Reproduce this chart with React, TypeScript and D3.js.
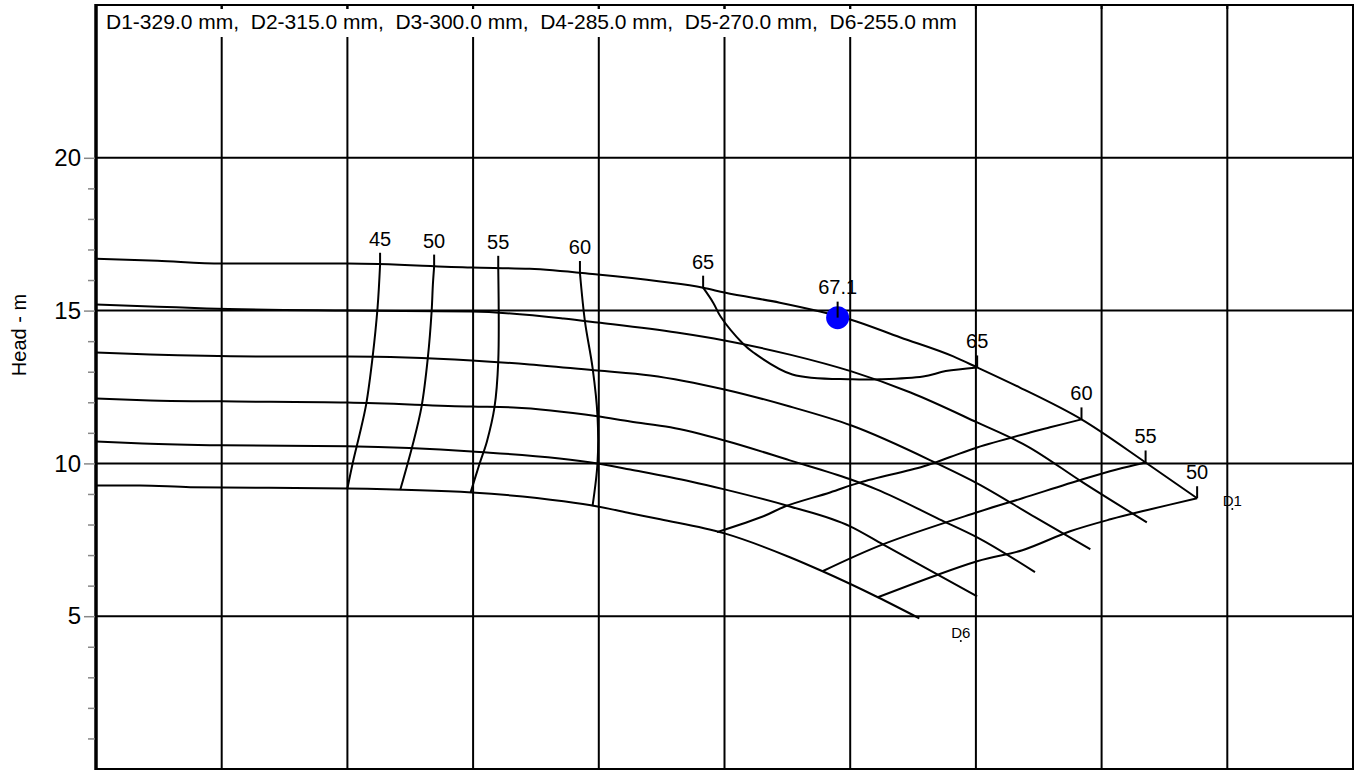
import React, { useRef, useEffect } from 'react';
import * as d3 from 'd3';

type Pt = [number, number];

const WIDTH = 1372;
const HEIGHT = 770;
const FONT = '"Liberation Sans", Arial, sans-serif';

// axis ranges (flow has no labels, just 10 grid columns)
const flowDomain: [number, number] = [0, 10];
const headDomain: [number, number] = [0, 25];
const flowGrid = [1, 2, 3, 4, 5, 6, 7, 8, 9];
const headMajor = [5, 10, 15, 20];
const headMinor = [1, 2, 3, 4, 6, 7, 8, 9, 11, 12, 13, 14, 16, 17, 18, 19];

// impeller diameters
const diameterNames = ['D1', 'D2', 'D3', 'D4', 'D5', 'D6'];
const diameterMm = [329.0, 315.0, 300.0, 285.0, 270.0, 255.0];

// head curves [flow, head m]
const headD1: Pt[] = [
  [0, 16.7], [0.49, 16.63], [1.0, 16.54], [2.0, 16.54], [2.99, 16.41], [3.45, 16.37],
  [3.99, 16.18], [4.49, 15.95], [4.83, 15.75], [5.0, 15.59], [5.44, 15.26], [5.76, 14.97],
  [6.0, 14.71], [6.4, 14.12], [6.82, 13.5], [7.01, 13.14], [7.35, 12.48], [7.84, 11.44],
  [8.35, 10.03], [8.76, 8.86]
];
const headD2: Pt[] = [
  [0, 15.2], [0.49, 15.13], [0.88, 15.07], [2.0, 15.0], [2.99, 14.97], [3.72, 14.74],
  [3.99, 14.61], [4.62, 14.28], [5.0, 14.02], [5.52, 13.56], [6.01, 13.01], [6.48, 12.32],
  [7.01, 11.34], [7.41, 10.56], [7.85, 9.38], [8.36, 8.07]
];
const headD3: Pt[] = [
  [0, 13.63], [0.43, 13.56], [1.28, 13.5], [2.0, 13.5], [2.99, 13.37], [3.45, 13.24],
  [3.99, 13.04], [4.41, 12.88], [5.0, 12.42], [5.52, 11.86], [6.01, 11.24], [6.69, 10.0],
  [7.01, 9.35], [7.47, 8.24], [7.91, 7.19]
];
const headD4: Pt[] = [
  [0, 12.12], [0.43, 12.06], [1.0, 12.03], [2.0, 11.99], [2.99, 11.86], [3.32, 11.83],
  [3.99, 11.54], [4.25, 11.37], [4.57, 11.18], [5.0, 10.75], [5.52, 10.1], [6.0, 9.48],
  [6.21, 9.15], [6.71, 8.17], [7.01, 7.58], [7.47, 6.44]
];
const headD5: Pt[] = [
  [0, 10.72], [0.37, 10.65], [1.0, 10.59], [2.0, 10.56], [2.99, 10.39], [3.99, 10.0],
  [4.25, 9.8], [4.73, 9.41], [5.0, 9.15], [5.52, 8.59], [6.0, 7.94], [6.26, 7.35], [7.01, 5.65]
];
const headD6: Pt[] = [
  [0, 9.28], [0.35, 9.28], [0.75, 9.22], [2.0, 9.18], [2.99, 9.05], [3.72, 8.76],
  [3.99, 8.59], [4.25, 8.37], [4.49, 8.17], [5.0, 7.71], [5.52, 6.93], [5.78, 6.47],
  [6.22, 5.62], [6.55, 4.93]
];

// iso-efficiency lines, each starts on the D1 curve
const eff45: Pt[] = [[2.26, 16.5], [2.24, 15.1], [2.2, 13.46], [2.15, 11.95], [2.1, 11.0], [2.05, 10.15], [2.0, 9.18]];
const eff50a: Pt[] = [[2.69, 16.44], [2.68, 15.85], [2.67, 14.97], [2.64, 13.46], [2.59, 11.86], [2.52, 10.62], [2.42, 9.13]];
const eff55a: Pt[] = [[3.2, 16.4], [3.2, 13.33], [3.17, 11.83], [3.11, 10.72], [3.05, 9.97], [2.98, 9.05]];
const eff60a: Pt[] = [[3.85, 16.23], [3.89, 14.64], [3.95, 13.14], [3.99, 11.54], [3.99, 10.03], [3.95, 8.6]];
const eff65: Pt[] = [
  [4.83, 15.75], [4.91, 15.26], [4.97, 14.8], [5.14, 13.95], [5.23, 13.63], [5.54, 12.91],
  [6.02, 12.75], [6.24, 12.75], [6.58, 12.84], [6.76, 13.02], [7.01, 13.14]
];
const eff60b: Pt[] = [
  [7.84, 11.44], [7.59, 11.18], [7.43, 11.01], [7.01, 10.52], [6.79, 10.2], [6.58, 9.9],
  [6.08, 9.38], [5.84, 9.05], [5.48, 8.59], [5.31, 8.27], [4.94, 7.75]
];
const eff55b: Pt[] = [
  [8.35, 10.03], [8.12, 9.8], [7.85, 9.48], [7.37, 8.86], [7.01, 8.4], [6.26, 7.35], [5.78, 6.47]
];
const eff50b: Pt[] = [
  [8.76, 8.86], [8.39, 8.5], [8.07, 8.17], [7.75, 7.78], [7.37, 7.16], [7.01, 6.8], [6.22, 5.62]
];

const effLines = [eff45, eff50a, eff55a, eff60a, eff65, eff60b, eff55b, eff50b];
const effValues = [45, 50, 55, 60, 65, 60, 55, 50];

// best efficiency point
const bepFlow = 5.9;
const bepHead = 14.77;
const bepEff = '67.1';

// end-of-curve markers
const endLabels = ['D1', 'D6'];
const endLabelPts: Pt[] = [[9.04, 8.51], [6.88, 4.19]];

const App: React.FC = () => {
  const svgRef = useRef<SVGSVGElement>(null);

  useEffect(() => {
    document.body.style.margin = '0';
    if (!svgRef.current) return;
    const svg = d3.select(svgRef.current);
    svg.selectAll('*').remove();

    const x = d3.scaleLinear().domain(flowDomain).range([96, 1353]);
    const y = d3.scaleLinear().domain(headDomain).range([769, 5]);
    const [x0, x1] = x.range();
    const [yb, yt] = y.range();

    // vertical grid
    svg.append('g')
      .selectAll('line')
      .data(flowGrid)
      .join('line')
      .attr('x1', d => x(d)).attr('x2', d => x(d))
      .attr('y1', yt).attr('y2', yb)
      .attr('stroke', '#000').attr('stroke-width', 2);

    // horizontal grid
    svg.append('g')
      .selectAll('line')
      .data(headMajor)
      .join('line')
      .attr('x1', x0).attr('x2', x1)
      .attr('y1', d => y(d)).attr('y2', d => y(d))
      .attr('stroke', '#000').attr('stroke-width', 2);

    // title with a white box behind it
    const titleText = diameterNames
      .map((n, i) => `${n}-${diameterMm[i].toFixed(1)} mm`)
      .join(',  ');
    const titleG = svg.append('g');
    const title = titleG.append('text')
      .attr('x', x0 + 10)
      .attr('y', 29)
      .attr('xml:space', 'preserve')
      .style('white-space', 'pre')
      .style('font-family', FONT)
      .style('font-size', '21px')
      .text(titleText);
    const tb = (title.node() as SVGTextElement).getBBox();
    titleG.insert('rect', 'text')
      .attr('x', x0 + 2)
      .attr('y', yt + 4)
      .attr('width', tb.x + tb.width + 12 - (x0 + 2))
      .attr('height', 28)
      .attr('fill', '#fff');

    // small ticks along the top border
    svg.append('g')
      .selectAll('line')
      .data(flowGrid)
      .join('line')
      .attr('x1', d => x(d)).attr('x2', d => x(d))
      .attr('y1', yt).attr('y2', yt + 4)
      .attr('stroke', '#000').attr('stroke-width', 2);

    // plot frame
    svg.append('rect')
      .attr('x', x0).attr('y', yt)
      .attr('width', x1 - x0).attr('height', yb - yt)
      .attr('fill', 'none')
      .attr('stroke', '#000').attr('stroke-width', 2);
    svg.append('line')
      .attr('x1', x0).attr('x2', x0)
      .attr('y1', yt - 1).attr('y2', yb + 1)
      .attr('stroke', '#000').attr('stroke-width', 3.5);

    // y axis
    const yAxis = svg.append('g')
      .attr('transform', `translate(${x0 - 1}, 0)`)
      .call(d3.axisLeft(y).tickValues(headMajor).tickSize(11).tickPadding(3).tickFormat(d3.format('d')));
    yAxis.select('.domain').remove();
    yAxis.selectAll('.tick line').attr('stroke', '#888').attr('stroke-width', 1.5);
    yAxis.selectAll('.tick text')
      .attr('fill', '#000')
      .style('font-family', FONT)
      .style('font-size', '24px');

    const yMinor = svg.append('g')
      .attr('transform', `translate(${x0 - 1}, 0)`)
      .call(d3.axisLeft(y).tickValues(headMinor).tickSize(7).tickFormat(() => ''));
    yMinor.select('.domain').remove();
    yMinor.selectAll('.tick line').attr('stroke', '#888').attr('stroke-width', 1.5);

    svg.append('text')
      .attr('transform', `translate(26, ${(y(10) + y(15)) / 2 - 52}) rotate(-90)`)
      .attr('text-anchor', 'middle')
      .style('font-family', FONT)
      .style('font-size', '20px')
      .text('Head - m');

    // head curves
    const headLine = d3.line<Pt>()
      .x(d => x(d[0]))
      .y(d => y(d[1]))
      .curve(d3.curveMonotoneX);
    svg.append('g')
      .selectAll('path')
      .data([headD1, headD2, headD3, headD4, headD5, headD6])
      .join('path')
      .attr('d', d => headLine(d))
      .attr('fill', 'none')
      .attr('stroke', '#000')
      .attr('stroke-width', 2);

    // iso-efficiency lines
    const effLine = d3.line<Pt>()
      .x(d => x(d[0]))
      .y(d => y(d[1]))
      .curve(d3.curveCatmullRom.alpha(0.5));
    svg.append('g')
      .selectAll('path')
      .data(effLines)
      .join('path')
      .attr('d', d => effLine(d))
      .attr('fill', 'none')
      .attr('stroke', '#000')
      .attr('stroke-width', 2);

    // labels where the efficiency lines meet D1 (65 closes on D1 twice)
    const labelPts: { v: number; p: Pt }[] = effLines.map((pts, i) => ({ v: effValues[i], p: pts[0] }));
    labelPts.push({ v: 65, p: eff65[eff65.length - 1] });
    const lg = svg.append('g');
    labelPts.forEach(({ v, p }) => {
      lg.append('line')
        .attr('x1', x(p[0])).attr('x2', x(p[0]))
        .attr('y1', y(p[1])).attr('y2', y(p[1]) - 12)
        .attr('stroke', '#000').attr('stroke-width', 2);
      lg.append('text')
        .attr('x', x(p[0]))
        .attr('y', y(p[1]) - 19)
        .attr('text-anchor', 'middle')
        .style('font-family', FONT)
        .style('font-size', '20px')
        .text(String(v));
    });

    // best efficiency point
    svg.append('circle')
      .attr('cx', x(bepFlow)).attr('cy', y(bepHead))
      .attr('r', 11.5)
      .attr('fill', '#0000ff');
    svg.append('line')
      .attr('x1', x(bepFlow)).attr('x2', x(bepFlow))
      .attr('y1', y(bepHead)).attr('y2', y(bepHead) - 16)
      .attr('stroke', '#000').attr('stroke-width', 2);
    svg.append('text')
      .attr('x', x(bepFlow))
      .attr('y', y(bepHead) - 24)
      .attr('text-anchor', 'middle')
      .style('font-family', FONT)
      .style('font-size', '20px')
      .text(bepEff);

    // curve end labels
    endLabels.forEach((name, i) => {
      const [fx, hy] = endLabelPts[i];
      svg.append('circle')
        .attr('cx', x(fx)).attr('cy', y(hy))
        .attr('r', 1)
        .attr('fill', '#000');
      svg.append('text')
        .attr('x', x(fx))
        .attr('y', y(hy) - 3)
        .attr('text-anchor', 'middle')
        .style('font-family', FONT)
        .style('font-size', '15px')
        .text(name);
    });
  }, []);

  return (
    <div style={{ width: WIDTH, height: HEIGHT, background: '#fff' }}>
      <svg ref={svgRef} width={WIDTH} height={HEIGHT} style={{ display: 'block' }} />
    </div>
  );
};

export default App;
